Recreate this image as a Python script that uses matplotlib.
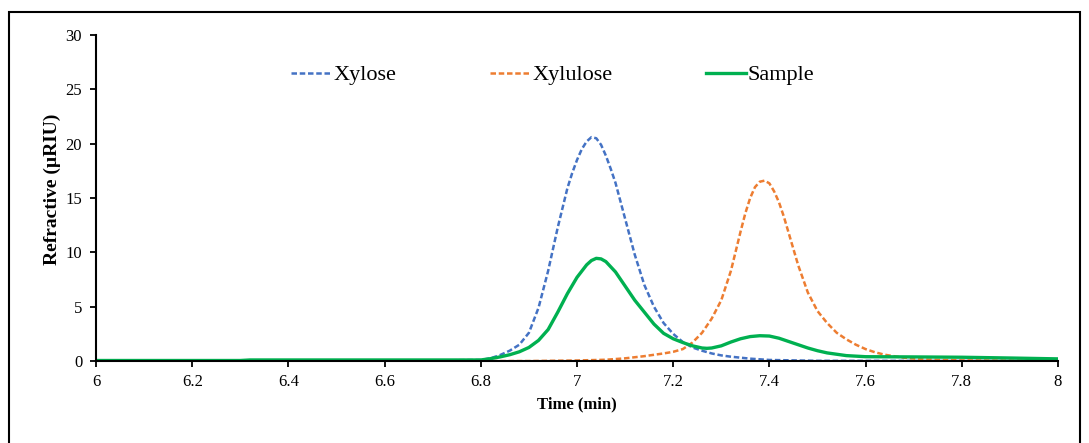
import matplotlib
matplotlib.use("Agg")
import matplotlib.pyplot as plt
from matplotlib.patches import Rectangle

t_xylose = [6.0, 6.6, 6.8, 6.82, 6.84, 6.86, 6.88, 6.90, 6.92, 6.94, 6.96, 6.98,
            6.99, 7.00, 7.01, 7.02, 7.03, 7.04, 7.05, 7.06, 7.07, 7.08, 7.10, 7.12,
            7.14, 7.16, 7.18, 7.20, 7.22, 7.24, 7.26, 7.28, 7.30, 7.32, 7.36, 7.40,
            7.50, 8.0]
y_xylose = [0.0, 0.0, 0.1, 0.25, 0.55, 0.95, 1.5, 2.6, 4.9, 8.3, 12.3, 15.9,
            17.3, 18.5, 19.5, 20.2, 20.6, 20.5, 19.9, 18.9, 17.7, 16.4, 13.1, 9.8,
            7.0, 5.0, 3.5, 2.5, 1.75, 1.25, 0.95, 0.7, 0.52, 0.4, 0.22, 0.1,
            0.02, 0.0]

t_xylulose = [6.0, 6.9, 7.0, 7.06, 7.10, 7.14, 7.18, 7.20, 7.22, 7.24, 7.26, 7.28,
              7.30, 7.32, 7.34, 7.35, 7.36, 7.37, 7.38, 7.39, 7.40, 7.41, 7.42,
              7.43, 7.44, 7.46, 7.48, 7.50, 7.52, 7.54, 7.56, 7.58, 7.60, 7.62,
              7.64, 7.68, 7.72, 7.80, 8.0]
y_xylulose = [0.0, 0.0, 0.05, 0.12, 0.25, 0.45, 0.7, 0.85, 1.1, 1.7, 2.6, 3.9,
              5.6, 8.3, 11.9, 13.6, 15.0, 16.0, 16.5, 16.6, 16.35, 15.6, 14.6,
              13.3, 11.8, 8.8, 6.3, 4.6, 3.5, 2.6, 2.0, 1.5, 1.1, 0.8,
              0.58, 0.3, 0.15, 0.06, 0.02]

t_sample = [6.0, 6.3, 6.32, 6.8, 6.82, 6.84, 6.86, 6.88, 6.90, 6.92, 6.94, 6.96,
            6.98, 7.00, 7.02, 7.03, 7.04, 7.05, 7.06, 7.08, 7.10, 7.12, 7.14, 7.16,
            7.18, 7.20, 7.22, 7.24, 7.26, 7.27, 7.28, 7.30, 7.32, 7.34, 7.36, 7.38,
            7.40, 7.42, 7.44, 7.46, 7.48, 7.50, 7.52, 7.56, 7.60, 7.70, 7.80, 7.90,
            8.0]
y_sample = [0.05, 0.05, 0.1, 0.1, 0.22, 0.38, 0.58, 0.85, 1.25, 1.9, 2.9, 4.5,
            6.2, 7.7, 8.85, 9.25, 9.45, 9.4, 9.15, 8.2, 6.9, 5.6, 4.5, 3.4,
            2.55, 2.05, 1.7, 1.4, 1.2, 1.17, 1.2, 1.4, 1.75, 2.05, 2.25, 2.33,
            2.3, 2.1, 1.8, 1.5, 1.2, 0.95, 0.75, 0.5, 0.4, 0.38, 0.35, 0.28,
            0.2]

plt.rcParams["font.family"] = ["Liberation Serif", "DejaVu Serif"]

fig = plt.figure(figsize=(10.89, 4.43), dpi=100)
ax = fig.add_axes([0.0882, 0.185, 0.8833, 0.736])

ax.plot(t_xylose, y_xylose, color="#4472C4", lw=1.8, ls=(0, (2.2, 1.1)), label="Xylose")
ax.plot(t_xylulose, y_xylulose, color="#ED7D31", lw=1.8, ls=(0, (2.2, 1.1)), label="Xylulose")
ax.plot(t_sample, y_sample, color="#00B050", lw=2.4, label="Sample")

ax.set_xlim(6, 8)
ax.set_ylim(0, 30)
ax.set_xticks([6, 6.2, 6.4, 6.6, 6.8, 7, 7.2, 7.4, 7.6, 7.8, 8])
ax.set_xticklabels(["6", "6.2", "6.4", "6.6", "6.8", "7", "7.2", "7.4", "7.6", "7.8", "8"])
ax.set_yticks(range(0, 31, 5))
ax.tick_params(axis="both", labelsize=12, width=1.3, length=4, color="black")
ax.tick_params(axis="x", pad=5)
ax.tick_params(axis="y", pad=6)
ax.spines[["top", "right"]].set_visible(False)
ax.spines[["left", "bottom"]].set_linewidth(1.5)

ax.set_xlabel("Time (min)", fontsize=12, fontweight="bold", labelpad=5)
ax.set_ylabel("Refractive (µRIU)", fontsize=14, fontweight="bold", labelpad=3)
ax.yaxis.label.set_y(0.528)

ax.legend(loc="center", bbox_to_anchor=(0.475, 0.877), ncol=3, frameon=False,
          fontsize=16, handlelength=1.8, handletextpad=0.1, columnspacing=4.2)

# marco alrededor de la figura
fig.patches.append(Rectangle((0.0083, -0.05), 0.9834, 1.023, transform=fig.transFigure,
                             fill=False, edgecolor="black", lw=1.5))

fig.savefig("out.png", dpi=100)
